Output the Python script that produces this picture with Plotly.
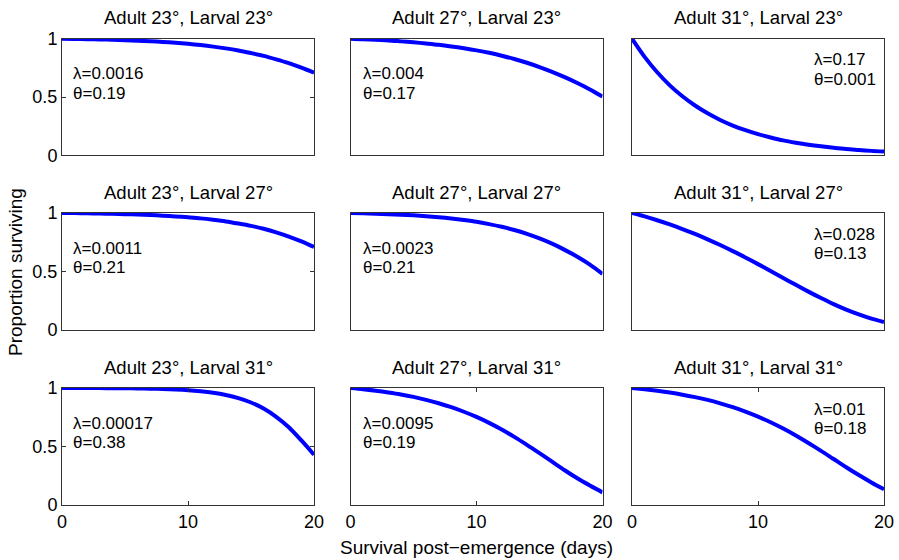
import plotly.graph_objects as go

# ---- data ----
days = list(range(0, 21))

panel_titles = [
    "Adult 23°, Larval 23°", "Adult 27°, Larval 23°", "Adult 31°, Larval 23°",
    "Adult 23°, Larval 27°", "Adult 27°, Larval 27°", "Adult 31°, Larval 27°",
    "Adult 23°, Larval 31°", "Adult 27°, Larval 31°", "Adult 31°, Larval 31°",
]
lambda_labels = ["0.0016", "0.004", "0.17", "0.0011", "0.0023", "0.028", "0.00017", "0.0095", "0.01"]
theta_labels = ["0.19", "0.17", "0.001", "0.21", "0.21", "0.13", "0.38", "0.19", "0.18"]

surv_a23_l23 = [1.0, 0.998, 0.996, 0.994, 0.991, 0.987, 0.983, 0.978, 0.972, 0.965, 0.956,
                0.945, 0.932, 0.917, 0.899, 0.877, 0.853, 0.823, 0.790, 0.751, 0.708]
surv_a27_l23 = [1.0, 0.996, 0.990, 0.985, 0.977, 0.969, 0.959, 0.948, 0.934, 0.918, 0.900,
                0.879, 0.854, 0.826, 0.794, 0.757, 0.716, 0.670, 0.620, 0.565, 0.504]
surv_a31_l23 = [1.0, 0.844, 0.712, 0.600, 0.506, 0.427, 0.360, 0.303, 0.255, 0.215, 0.181,
                0.153, 0.128, 0.108, 0.091, 0.077, 0.065, 0.054, 0.046, 0.038, 0.032]
surv_a23_l27 = [1.0, 0.999, 0.997, 0.995, 0.993, 0.990, 0.987, 0.983, 0.977, 0.971, 0.963,
                0.954, 0.942, 0.928, 0.910, 0.890, 0.865, 0.835, 0.799, 0.757, 0.709]
surv_a27_l27 = [1.0, 0.997, 0.994, 0.990, 0.986, 0.980, 0.973, 0.964, 0.953, 0.940, 0.925,
                0.905, 0.882, 0.855, 0.822, 0.783, 0.738, 0.685, 0.626, 0.559, 0.480]
surv_a31_l27 = [1.0, 0.971, 0.938, 0.902, 0.863, 0.821, 0.775, 0.726, 0.674, 0.620, 0.563,
                0.504, 0.445, 0.386, 0.328, 0.273, 0.221, 0.174, 0.133, 0.097, 0.068]
surv_a23_l31 = [1.0, 1.0, 0.9995, 0.999, 0.998, 0.9975, 0.996, 0.994, 0.991, 0.987, 0.981,
                0.972, 0.959, 0.940, 0.913, 0.876, 0.825, 0.754, 0.665, 0.552, 0.430]
surv_a27_l31 = [1.0, 0.990, 0.977, 0.962, 0.945, 0.924, 0.899, 0.870, 0.836, 0.797, 0.753,
                0.702, 0.645, 0.582, 0.514, 0.443, 0.370, 0.297, 0.228, 0.166, 0.108]
surv_a31_l31 = [1.0, 0.989, 0.976, 0.961, 0.943, 0.922, 0.898, 0.869, 0.836, 0.798, 0.755,
                0.707, 0.653, 0.594, 0.530, 0.463, 0.393, 0.323, 0.256, 0.193, 0.135]

series = [surv_a23_l23, surv_a27_l23, surv_a31_l23,
          surv_a23_l27, surv_a27_l27, surv_a31_l27,
          surv_a23_l31, surv_a27_l31, surv_a31_l31]

x_ticks = [0, 10, 20]
y_ticks = [0, 0.5, 1]
y_tick_text = ["0", "0.5", "1"]

# ---- layout geometry (pixels) ----
W, H = 899, 560
col_px = [(62, 314), (350.5, 602.5), (632, 884)]
row_px = [(38.7, 155.3), (213, 330), (388, 505)]
FONT = "Liberation Sans, Arial, Helvetica, sans-serif"
TICK_SIZE = 18
TITLE_SIZE = 18.5
PARAM_SIZE = 17
LABEL_SIZE = 19

fig = go.Figure()
layout = dict(
    width=W, height=H,
    margin=dict(l=0, r=0, t=0, b=0, pad=0),
    autosize=False,
    paper_bgcolor="white", plot_bgcolor="white",
    showlegend=False,
    font=dict(family=FONT, size=16, color="black"),
)
annotations = []

for i in range(9):
    r, c = divmod(i, 3)
    idx = i + 1
    xa = "x" if idx == 1 else f"x{idx}"
    ya = "y" if idx == 1 else f"y{idx}"
    fig.add_trace(go.Scatter(
        x=days, y=series[i], mode="lines",
        line=dict(color="#0000ff", width=4, shape="spline", smoothing=0.8),
        xaxis=xa, yaxis=ya, hoverinfo="skip",
    ))
    x0, x1 = col_px[c]
    y0, y1 = row_px[r]
    show_x = (r == 2)
    show_y = (c == 0)
    layout["xaxis" + ("" if idx == 1 else str(idx))] = dict(
        domain=[x0 / W, x1 / W], anchor=ya, range=[0, 20], automargin=False,
        showgrid=False, zeroline=False, showline=True, linecolor="#333333", linewidth=1,
        mirror="ticks" if show_x else True,
        ticks="inside" if show_x else "", ticklen=4, tickcolor="#333333",
        tickvals=x_ticks, showticklabels=show_x,
        tickfont=dict(size=TICK_SIZE, family=FONT, color="black"),
        fixedrange=True,
    )
    layout["yaxis" + ("" if idx == 1 else str(idx))] = dict(
        domain=[1 - y1 / H, 1 - y0 / H], anchor=xa, range=[0, 1], automargin=False,
        showgrid=False, zeroline=False, showline=True, linecolor="#333333", linewidth=1,
        mirror="ticks" if show_y else True,
        ticks="inside" if show_y else "", ticklen=4, tickcolor="#333333",
        tickvals=y_ticks, ticktext=y_tick_text, showticklabels=show_y,
        tickfont=dict(size=TICK_SIZE, family=FONT, color="black"),
        fixedrange=True,
    )
    annotations.append(dict(
        text=panel_titles[i], xref="paper", yref="paper",
        x=(x0 + x1) / 2 / W, y=1 - (y0 - 21) / H,
        xanchor="center", yanchor="middle", showarrow=False,
        font=dict(size=TITLE_SIZE, family=FONT, color="black"),
    ))
    if c == 2:
        tx, ty = 813, y0 + 21
    else:
        tx, ty = (72 if c == 0 else 362), y0 + 35
    annotations.append(dict(
        text="λ=" + lambda_labels[i], xref="paper", yref="paper",
        x=tx / W, y=1 - ty / H, xanchor="left", yanchor="middle", showarrow=False,
        borderpad=0, font=dict(size=PARAM_SIZE, family=FONT, color="black"),
    ))
    annotations.append(dict(
        text="θ=" + theta_labels[i], xref="paper", yref="paper",
        x=tx / W, y=1 - (ty + 19.5) / H, xanchor="left", yanchor="middle", showarrow=False,
        borderpad=0, font=dict(size=PARAM_SIZE, family=FONT, color="black"),
    ))

annotations.append(dict(
    text="Proportion surviving", xref="paper", yref="paper",
    x=15 / W, y=1 - 272 / H, xanchor="center", yanchor="middle",
    textangle=-90, showarrow=False, font=dict(size=LABEL_SIZE, family=FONT, color="black"),
))
annotations.append(dict(
    text="Survival post\u2212emergence (days)", xref="paper", yref="paper",
    x=476 / W, y=1 - 547 / H, xanchor="center", yanchor="middle",
    showarrow=False, font=dict(size=LABEL_SIZE, family=FONT, color="black"),
))
layout["annotations"] = annotations
fig.update_layout(**layout)
fig.write_html("out.html")
